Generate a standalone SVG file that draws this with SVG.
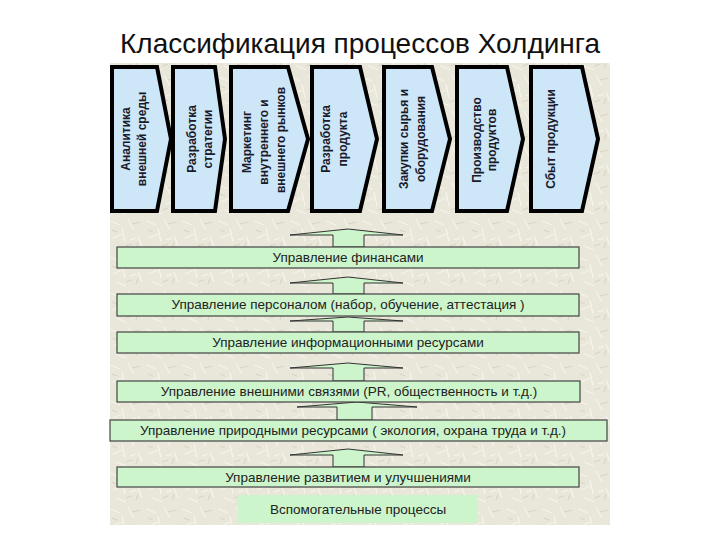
<svg xmlns="http://www.w3.org/2000/svg" width="720" height="540" viewBox="0 0 720 540">
<defs>
<pattern id="tex" x="0" y="0" width="36" height="36" patternUnits="userSpaceOnUse">
<rect width="36" height="36" fill="#e9e6da"/>
<path d="M2 5 L12 9 M20 3 L26 14 M30 20 L34 30 M5 22 L14 18 M8 30 L18 34 M22 24 L28 22 M14 12 L17 26" stroke="#f6f4ec" stroke-width="1.2" fill="none"/>
<path d="M4 14 L9 16 M24 8 L32 6 M18 30 L24 28 M28 32 L30 26" stroke="#d8d4c4" stroke-width="1" fill="none"/>
</pattern>
<style>
.title{font-family:"Liberation Sans",Arial,sans-serif;font-size:28px;fill:#111;}
.chev{fill:#cde6f8;stroke:#000;stroke-width:4;stroke-linejoin:miter;}
.ct{font-family:"Liberation Sans",Arial,sans-serif;font-size:12px;font-weight:bold;fill:#1a1a2a;text-anchor:middle;}
.bar{fill:#ccf5cc;stroke:#444;stroke-width:1.2;}
.bt{font-family:"Liberation Sans",Arial,sans-serif;font-size:13.5px;fill:#222;text-anchor:middle;}
.arr{fill:#ccf5cc;stroke:#333;stroke-width:1;stroke-linejoin:miter;}
</style>
</defs>
<rect x="0" y="0" width="720" height="540" fill="#ffffff"/>
<rect x="110" y="63" width="500" height="462" fill="url(#tex)"/>
<text class="title" x="360" y="53" text-anchor="middle">Классификация процессов Холдинга</text>

<g id="chevron-1">
<polygon class="chev" points="112,67 157,67 171,139 157,211 112,211"/>
<text class="ct" transform="translate(130,139) rotate(-90)">Аналитика</text>
<text class="ct" transform="translate(146,139) rotate(-90)">внешней среды</text>
</g>
<g id="chevron-2">
<polygon class="chev" points="173,67 215,67 225,139 215,211 173,211"/>
<text class="ct" transform="translate(196,139) rotate(-90)">Разработка</text>
<text class="ct" transform="translate(212,139) rotate(-90)">стратегии</text>
</g>
<g id="chevron-3">
<polygon class="chev" points="231,67 288,67 308,139 288,211 231,211"/>
<text class="ct" transform="translate(251,142) rotate(-90)">Маркетинг</text>
<text class="ct" transform="translate(268,142) rotate(-90)">внутреннего и</text>
<text class="ct" transform="translate(285,140) rotate(-90)">внешнего рынков</text>
</g>
<g id="chevron-4">
<polygon class="chev" points="312,67 360,67 377,139 360,211 312,211"/>
<text class="ct" transform="translate(330,139) rotate(-90)">Разработка</text>
<text class="ct" transform="translate(347,139) rotate(-90)">продукта</text>
</g>
<g id="chevron-5">
<polygon class="chev" points="384,67 432,67 450,139 432,211 384,211"/>
<text class="ct" transform="translate(408,139) rotate(-90)">Закупки сырья и</text>
<text class="ct" transform="translate(425,139) rotate(-90)">оборудования</text>
</g>
<g id="chevron-6">
<polygon class="chev" points="457,67 507,67 523,139 507,211 457,211"/>
<text class="ct" transform="translate(481,140) rotate(-90)">Производство</text>
<text class="ct" transform="translate(496,140) rotate(-90)">продуктов</text>
</g>
<g id="chevron-7">
<polygon class="chev" points="531,67 582,67 598,139 582,211 531,211"/>
<text class="ct" transform="translate(555,139) rotate(-90)">Сбыт продукции</text>
</g>

<g id="connectors">
<polygon class="arr" points="290,235 348,229 403,235 364,235 364,247 333,247 333,235"/>
<polygon class="arr" points="290,283 348,277 403,283 364,283 364,294 333,294 333,283"/>
<polygon class="arr" points="290,321 348,317 403,321 364,321 364,332 333,332 333,321"/>
<polygon class="arr" points="290,368 348,363 403,368 364,368 364,381 333,381 333,368"/>
<polygon class="arr" points="297,407 357,402 417,407 372,407 372,420 337,420 337,407"/>
<polygon class="arr" points="290,455 348,449 403,455 364,455 364,467 333,467 333,455"/>
</g>

<g id="bar-finance">
<rect class="bar" x="117" y="247" width="462" height="21"/>
<text class="bt" x="348" y="262">Управление финансами</text>
</g>
<g id="bar-personnel">
<rect class="bar" x="117" y="294" width="462" height="22"/>
<text class="bt" x="348" y="309">Управление персоналом (набор, обучение, аттестация )</text>
</g>
<g id="bar-info">
<rect class="bar" x="117" y="332" width="462" height="21"/>
<text class="bt" x="348" y="347">Управление информационными ресурсами</text>
</g>
<g id="bar-external">
<rect class="bar" x="117" y="381" width="463" height="21"/>
<text class="bt" x="349" y="396">Управление внешними связями (PR, общественность и т.д.)</text>
</g>
<g id="bar-nature">
<rect class="bar" x="110" y="420" width="497" height="21"/>
<text class="bt" x="353" y="435">Управление природными ресурсами ( экология, охрана труда и т.д.)</text>
</g>
<g id="bar-development">
<rect class="bar" x="117" y="467" width="462" height="20"/>
<text class="bt" x="348" y="482">Управление развитием и улучшениями</text>
</g>
<g id="support-label">
<rect x="238" y="495" width="240" height="28" fill="#ccf5cc"/>
<text class="bt" x="358" y="514">Вспомогательные процессы</text>
</g>
</svg>
